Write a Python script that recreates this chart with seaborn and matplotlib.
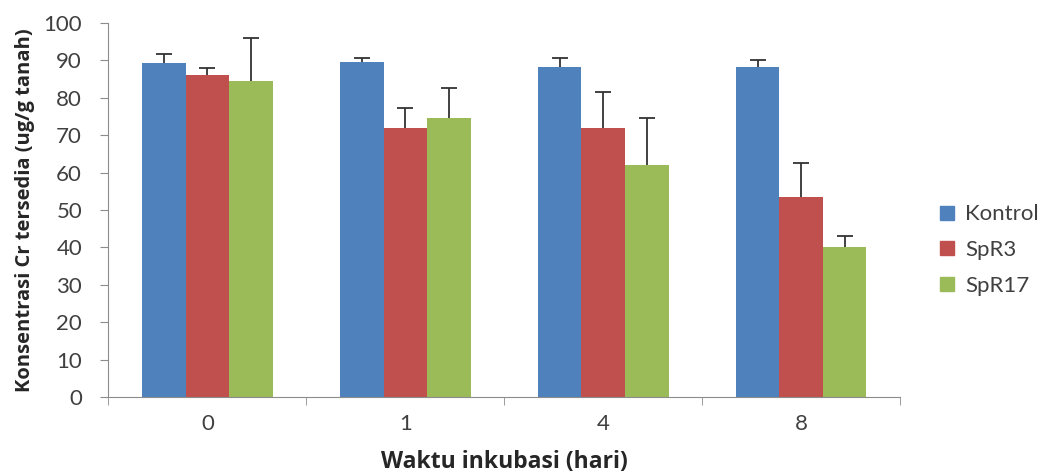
import numpy as np
import pandas as pd
import matplotlib
matplotlib.use("Agg")
import matplotlib.pyplot as plt
import seaborn as sns

# data
days = ["0", "1", "4", "8"]
series = ["Kontrol", "SpR3", "SpR17"]
kontrol = [89.3, 89.4, 88.3, 88.3]
spr3 = [86.0, 71.8, 72.0, 53.4]
spr17 = [84.5, 74.6, 61.9, 40.2]
kontrol_err = [2.3, 1.3, 2.4, 1.7]
spr3_err = [2.0, 5.5, 9.5, 9.2]
spr17_err = [11.5, 8.0, 12.6, 2.9]

COLORS = ["#4F81BD", "#C0504D", "#9BBB59"]

df = pd.DataFrame({
    "Hari": days * 3,
    "Seri": [s for s in series for _ in days],
    "Nilai": kontrol + spr3 + spr17,
})
errs = kontrol_err + spr3_err + spr17_err

sns.set_style("white")
plt.rcParams['font.family'] = ['Lato', 'DejaVu Sans']
BOLD_FONT = ['Open Sans', 'DejaVu Sans']

fig = plt.figure(figsize=(10.43, 4.75), dpi=100)
ax = fig.add_axes([0.104, 0.164, 0.759, 0.788])

sns.barplot(data=df, x="Hari", y="Nilai", hue="Seri", palette=COLORS,
            width=0.66, saturation=1, errorbar=None, linewidth=0,
            ax=ax, legend=False)

# upward only error bars, like Excel "plus"
bars = [p for p in ax.patches if p.get_height() > 0]
for bar, e in zip(bars, errs):
    x = bar.get_x() + bar.get_width() / 2
    h = bar.get_height()
    ax.vlines(x, h, h + e, color="#333333", lw=1.3, zorder=3)
    ax.plot(x, h + e, marker="_", markersize=12, mew=1.3, color="#333333",
            zorder=3)

ax.set_ylim(0, 100)
ax.set_xlim(-0.5, 3.5)
ax.set_yticks(range(0, 101, 10))
for side in ["top", "right"]:
    ax.spines[side].set_visible(False)
ax.spines["left"].set_color("#8c8c8c")
ax.spines["bottom"].set_color("#8c8c8c")
ax.tick_params(axis="y", direction="out", length=6, color="#8c8c8c",
               labelsize=16, labelcolor="#404040", left=True, pad=13)
ax.tick_params(axis="x", length=0, labelsize=16, labelcolor="#404040", pad=12)
ax.set_xticks(np.arange(-0.5, 4, 1), minor=True)
ax.tick_params(axis="x", which="minor", length=6, color="#8c8c8c", bottom=True)

ax.set_xlabel("Waktu inkubasi (hari)", fontsize=16.5, fontweight="bold",
              color="#262626", labelpad=12, family=BOLD_FONT)
ax.set_ylabel("Konsentrasi Cr tersedia (ug/g tanah)", fontsize=14.5,
              fontweight="bold", color="#262626", labelpad=6, family=BOLD_FONT)

handles = [plt.Line2D([], [], marker="s", linestyle="none", markersize=10,
                      color=c) for c in COLORS]
ax.legend(handles, series, loc="center left", bbox_to_anchor=(1.02, 0.393),
          frameon=False, fontsize=16, labelspacing=0.7, handletextpad=0.3,
          handlelength=1.0, labelcolor="#404040")

fig.savefig("out.png", dpi=100)
